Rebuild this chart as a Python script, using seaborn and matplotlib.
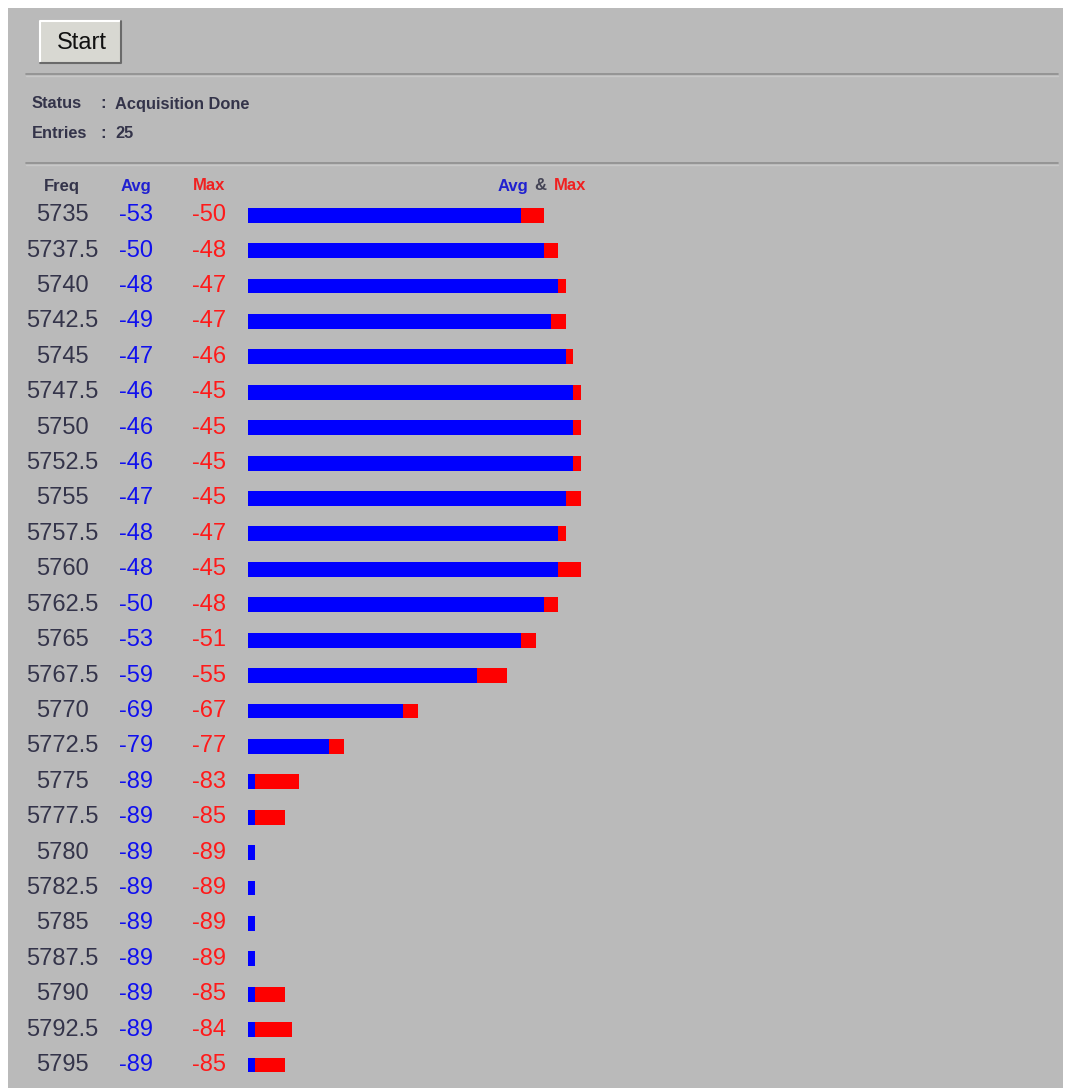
"""Spectrum scan panel: average and peak level per channel."""
import matplotlib.pyplot as plt
import matplotlib.transforms as mtransforms
import pandas as pd
import seaborn as sns
from matplotlib.patches import Rectangle

# scan results (MHz, dBm)
freqs = [5735, 5737.5, 5740, 5742.5, 5745, 5747.5, 5750, 5752.5, 5755, 5757.5,
         5760, 5762.5, 5765, 5767.5, 5770, 5772.5, 5775, 5777.5, 5780, 5782.5,
         5785, 5787.5, 5790, 5792.5, 5795]
avg_dbm = [-53, -50, -48, -49, -47, -46, -46, -46, -47, -48,
           -48, -50, -53, -59, -69, -79, -89, -89, -89, -89,
           -89, -89, -89, -89, -89]
max_dbm = [-50, -48, -47, -47, -46, -45, -45, -45, -45, -47,
           -45, -48, -51, -55, -67, -77, -83, -85, -89, -89,
           -89, -89, -85, -84, -85]
status = "Acquisition Done"
floor_dbm = -90  # bars are drawn from the noise floor

W, H = 1065, 1088
BG = "#bababa"
TXT = "#34344a"
BLUE = "#0000fe"
RED = "#fe0000"

df = pd.DataFrame({"freq": [f"{f:g}" for f in freqs], "avg": avg_dbm, "max": max_dbm})
df["avg_len"] = df["avg"] - floor_dbm
df["max_len"] = df["max"] - floor_dbm

sns.set_theme(style="white")
plt.rcParams["font.family"] = ["Liberation Sans", "DejaVu Sans"]

fig = plt.figure(figsize=(W / 100, H / 100), dpi=100, facecolor="white")

# background layer in pixel coordinates
bg = fig.add_axes([0, 0, 1, 1], zorder=0)
bg.set_xlim(0, W)
bg.set_ylim(H, 0)
bg.axis("off")
bg.add_patch(Rectangle((8, 8), W - 10, H - 8, facecolor=BG, edgecolor="none"))

# Start button
bg.add_patch(Rectangle((40, 21), 81, 42, facecolor="#d8d8d2", edgecolor="none"))
bg.plot([40, 40, 121], [63, 21, 21], color="white", lw=1.5)
bg.plot([40, 121, 121], [63, 63, 21], color="#6a6a6a", lw=1.5)
bg.text(82, 43, "Start", ha="center", va="center", fontsize=17, color="#111111")

# separators
for y in (74, 163):
    bg.plot([26, 1058], [y, y], color="#8e8e8e", lw=1.2)
    bg.plot([26, 1058], [y + 2, y + 2], color="#c8c8c8", lw=1)

info = dict(fontsize=11.8, fontweight="bold", color=TXT, va="center")
bg.text(32, 104, "Status", **info)
bg.text(100, 104, ":", **info)
bg.text(115, 104, status, **info)
bg.text(32, 133, "Entries", **info)
bg.text(100, 133, ":", **info)
bg.text(115, 133, str(len(freqs)), **info)

# column headers
head = dict(va="center", fontsize=12, fontweight="bold")
bg.text(62, 186, "Freq", ha="center", color=TXT, **head)
bg.text(136, 186, "Avg", ha="center", color="#2020d0", **head)
bg.text(209, 186, "Max", ha="center", color="#f02020", **head)
bg.text(498, 186, "Avg", ha="left", color="#2020d0", **head)
bg.text(540.5, 186, "&", ha="center", color="#444455", **head)
bg.text(586, 186, "Max", ha="right", color="#f02020", **head)

# bar area: 7.4 px per dB, starting at x=247.5
px_per_db = 7.4
left, right = 247.5, 1063
top, row_h = 197.5, 35.41
n = len(freqs)
ax = fig.add_axes([left / W, 1 - (top + n * row_h) / H,
                   (right - left) / W, n * row_h / H], zorder=1)
sns.barplot(data=df, x="max_len", y="freq", color=RED, saturation=1,
            width=0.42, errorbar=None, linewidth=0, ax=ax)
sns.barplot(data=df, x="avg_len", y="freq", color=BLUE, saturation=1,
            width=0.42, errorbar=None, linewidth=0, ax=ax)
ax.set_xlim(0, (right - left) / px_per_db)
ax.set_ylim(n - 0.5, -0.5)
ax.set_facecolor("none")
ax.axis("off")

# row labels: x in pixels, y in row units
trans = mtransforms.blended_transform_factory(bg.transData, ax.transData)
for i, row in df.iterrows():
    ax.text(62, i, row["freq"], transform=trans, ha="center", va="center",
            fontsize=17, color=TXT)
    ax.text(136, i, f"{row['avg']}", transform=trans, ha="center", va="center",
            fontsize=17, color="#1010ee")
    ax.text(209, i, f"{row['max']}", transform=trans, ha="center", va="center",
            fontsize=17, color="#ff1a1a")

fig.savefig("out.png", dpi=100, facecolor="white")
